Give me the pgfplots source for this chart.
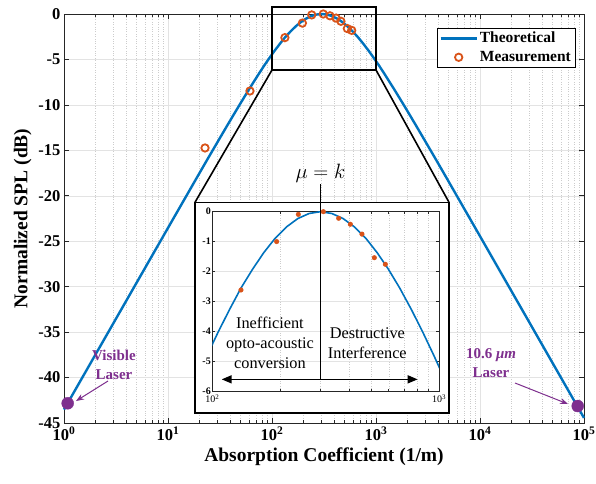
\documentclass[border=0pt]{standalone}
\usepackage{fontspec}
\setmainfont{Liberation Serif}
\usepackage{pgfplots}
\pgfplotsset{compat=1.18}
\usepackage{pgfplotstable}
\usetikzlibrary{arrows.meta}

\definecolor{mblue}{rgb}{0,0.447,0.741}
\definecolor{morange}{rgb}{0.85,0.325,0.098}
\definecolor{mpurple}{rgb}{0.494,0.184,0.556}

\pgfplotsset{
  lineleg/.style={legend image code/.code={\draw[##1] (0pt,0pt) -- (36pt,0pt);}},
  markleg/.style={legend image code/.code={\draw[mark repeat=2,mark phase=2,##1] plot coordinates {(0pt,0pt) (18pt,0pt) (36pt,0pt)};}},
}

% theoretical curve, mu = k = 300 1/m
\pgfplotstableread{
x y
1 -43.52
3 -33.98
9.487 -23.99
18.93 -18.01
23.82 -16.03
30 -14.07
37.77 -12.12
47.55 -10.20
59.86 -8.32
75.36 -6.51
84.5 -5.64
94.87 -4.81
100 -4.44
106.4 -4.01
119.4 -3.26
133.7 -2.56
150.4 -1.93
168.7 -1.37
189.3 -0.89
212.4 -0.51
238.3 -0.23
267.4 -0.06
300 0
336.6 -0.06
377.6 -0.23
423.8 -0.51
475.5 -0.89
533.5 -1.37
598.6 -1.93
671.6 -2.56
753.6 -3.26
845.5 -4.01
948.7 -4.81
1000 -5.19
1065 -5.64
1194 -6.51
1503 -8.32
1893 -10.20
2383 -12.12
3000 -14.07
3778 -16.03
4755 -18.01
9487 -23.99
30000 -33.98
100000 -44.44
}\theory

\pgfplotstableread{
x y
22.7 -14.74
61.4 -8.47
133 -2.6
196 -1.0
241 -0.1
311 0
361 -0.2
413 -0.45
460 -0.8
530 -1.6
584 -1.8
}\meas

\pgfplotstableread{
x y
133.8 -2.62
192.2 -1.00
239.6 -0.09
308.9 0.0
360.9 -0.22
406.3 -0.42
457.3 -0.75
518.4 -1.54
579.8 -1.76
}\measin

\begin{document}
\begin{tikzpicture}
\useasboundingbox (-64pt,-60pt) rectangle (532pt,423pt);
\begin{axis}[
  at={(0pt,0pt)}, anchor=south west, scale only axis,
  width=520pt, height=409pt,
  xmode=log, xmin=1, xmax=1e5, ymin=-45, ymax=0,
  xtick={1,10,100,1000,10000,100000},
  xticklabels={10\textsuperscript{0},10\textsuperscript{1},10\textsuperscript{2},10\textsuperscript{3},10\textsuperscript{4},10\textsuperscript{5}},
  ytick={-45,-40,...,0},
  yticklabels={-45,-40,-35,-30,-25,-20,-15,-10,-5,0},
  grid=major, xminorgrids=true,
  major grid style={black!11,line width=0.5pt},
  minor grid style={black!20,dotted,line width=0.5pt},
  axis line style={black!85,line width=0.8pt},
  tick style={black!85,line width=0.6pt},
  major tick length=5pt, minor tick length=3pt, tick align=inside,
  ticklabel style={font=\fontsize{16.5}{18}\selectfont\bfseries},
  label style={font=\fontsize{19.5}{22}\selectfont\bfseries},
  xlabel={Absorption Coefficient (1/m)},
  ylabel={Normalized SPL (dB)},
  legend style={at={(0.983,0.966)}, anchor=north east, draw=black,
    line width=0.6pt, font=\fontsize{15.5}{17}\selectfont\bfseries,
    inner sep=2pt, row sep=3pt, cells={anchor=west}},
  clip=false,
]
\addplot[mblue, line width=2.4pt, lineleg] table {\theory};
\addlegendentry{Theoretical}
\addplot[only marks, mark=o, mark size=3.7pt, morange,
  mark options={line width=1.8pt}, markleg] table {\meas};
\addlegendentry{Measurement}
\addplot[forget plot, only marks, mark=*, mark size=6pt, mpurple]
  coordinates {(1.085,-42.83) (87000,-43.13)};
\draw[black, line width=1.6pt] (axis cs:100,0.77) rectangle (axis cs:1000,-6.16);
\coordinate (zl) at (axis cs:100,-6.16);
\coordinate (zr) at (axis cs:1000,-6.16);
\end{axis}

\draw[black, line width=1.6pt] (zl) -- (131pt,220.7pt);
\draw[black, line width=1.6pt] (zr) -- (385pt,220.7pt);
\filldraw[fill=white, draw=black, line width=1.6pt] (131pt,10pt) rectangle (385pt,220.7pt);

% laser annotations
\node[mpurple, align=center, font=\fontsize{15}{19}\selectfont\bfseries] at (50pt,58pt) {Visible\\Laser};
\node[mpurple, align=center, font=\fontsize{15}{19}\selectfont\bfseries] at (427pt,60pt) {10.6 \textit{μm}\\Laser};
\draw[mpurple, line width=1pt, -{Stealth[length=8pt,width=6pt]}] (44pt,42pt) -- (12pt,22pt);
\draw[mpurple, line width=1pt, -{Stealth[length=8pt,width=6pt]}] (451pt,40pt) -- (504pt,19pt);

\begin{axis}[
  at={(148.3pt,32pt)}, anchor=south west, scale only axis,
  width=226.7pt, height=179.3pt,
  xmode=log, xmin=100, xmax=1000, ymin=-6, ymax=0,
  xtick={100,1000},
  xticklabels={10\textsuperscript{2},10\textsuperscript{3}},
  ytick={-6,-5,...,0},
  yticklabels={-6,-5,-4,-3,-2,-1,0},
  grid=major, xminorgrids=true,
  major grid style={black!11,line width=0.4pt},
  minor grid style={black!20,dotted,line width=0.4pt},
  axis line style={black!85,line width=0.6pt},
  tick style={black!85,line width=0.5pt},
  major tick length=3pt, minor tick length=2pt, tick align=inside,
  xticklabel style={font=\fontsize{10}{11}\selectfont},
  yticklabel style={font=\fontsize{10}{11}\selectfont\bfseries},
  xticklabel shift=0pt, yticklabel shift=-2pt,
]
\addplot[mblue, line width=1.6pt] table {\theory};
\addplot[only marks, mark=*, mark size=2.3pt, morange] table {\measin};
\coordinate (vtop) at (axis cs:300,0.92);
\coordinate (vbot) at (axis cs:300,-5.61);
\coordinate (al) at (axis cs:110,-5.61);
\coordinate (ar) at (axis cs:805,-5.61);
\coordinate (t1) at (axis cs:179.6,-4.4);
\coordinate (t2) at (axis cs:483,-4.4);
\end{axis}

\draw[black, line width=1.2pt] (vtop) -- (vbot);
\draw[black, line width=1.5pt, {Triangle[length=10pt,width=8pt]}-{Triangle[length=10pt,width=8pt]}] (al) -- (ar);
\node[anchor=base, font=\fontsize{20}{24}\selectfont] at ([yshift=6pt]vtop) {$\mu = k$};
\node[align=center, font=\fontsize{16.3}{20}\selectfont] at (t1) {Inefficient\\opto-acoustic\\conversion};
\node[align=center, font=\fontsize{16.3}{20}\selectfont] at (t2) {Destructive\\Interference};
\end{tikzpicture}
\end{document}
